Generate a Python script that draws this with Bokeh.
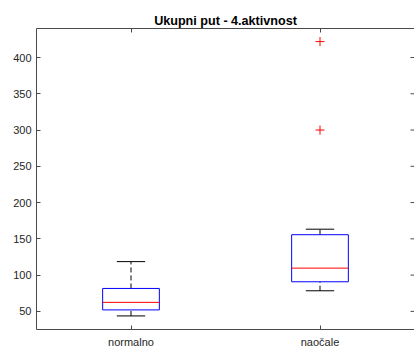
from math import pi
from bokeh.plotting import figure
from bokeh.models import FixedTicker, LinearAxis, Range1d
from bokeh.embed import file_html
from bokeh.resources import INLINE

# Box plot summary per group
groups = ["normalno", "naočale"]
lower_whisker = [43.7, 78.4]
q1 = [52.0, 90.8]
median = [62.4, 109.6]
q3 = [81.6, 155.7]
upper_whisker = [118.6, 163.3]
outlier_group = [2, 2]
outlier_value = [300.0, 422.0]

y_ticks = [50, 100, 150, 200, 250, 300, 350, 400]

positions = [i + 1 for i in range(len(groups))]
box_half = 0.15
cap_half = 0.075
x_lo, x_hi = 0.5, 2.5
y_lo, y_hi = 25, 440

AX = "#4a4a4a"
TXT = "#262626"
FONT = "Liberation Sans"

p = figure(width=414, height=351, output_backend="svg", toolbar_location=None,
           x_range=Range1d(x_lo, x_hi), y_range=Range1d(y_lo, y_hi),
           min_border_left=36, min_border_right=0, min_border_top=28,
           min_border_bottom=22, x_axis_location="below")
p.background_fill_color = "white"
p.border_fill_color = "white"
p.outline_line_color = None
p.grid.visible = False

p.title.text = "Ukupni put - 4.aktivnost"
p.title.align = "center"
p.title.text_font = FONT
p.title.text_font_size = "12.6px"
p.title.text_font_style = "bold"
p.title.text_color = "#000000"
p.title.standoff = 2

# whiskers (dashed) and caps
p.segment(x0=positions, y0=q3, x1=positions, y1=upper_whisker,
          line_color="#000000", line_width=1, line_dash="5 3")
p.segment(x0=positions, y0=lower_whisker, x1=positions, y1=q1,
          line_color="#000000", line_width=1, line_dash="5 3")
p.segment(x0=[x - cap_half for x in positions], y0=upper_whisker,
          x1=[x + cap_half for x in positions], y1=upper_whisker,
          line_color="#000000", line_width=1)
p.segment(x0=[x - cap_half for x in positions], y0=lower_whisker,
          x1=[x + cap_half for x in positions], y1=lower_whisker,
          line_color="#000000", line_width=1)

# boxes and medians
p.quad(left=[x - box_half for x in positions], right=[x + box_half for x in positions],
       bottom=q1, top=q3, fill_color=None, line_color="#0000ff", line_width=1)
p.segment(x0=[x - box_half for x in positions], y0=median,
          x1=[x + box_half for x in positions], y1=median,
          line_color="#ff0000", line_width=1)

# outliers
p.scatter(x=outlier_group, y=outlier_value, marker="cross", size=9,
          line_color="#ff0000", line_width=1)

def style_axis(ax, labels=True):
    ax.axis_line_color = AX
    ax.major_tick_line_color = AX
    ax.major_tick_in = 4
    ax.major_tick_out = 0
    ax.minor_tick_line_color = None
    ax.major_label_text_font = FONT
    ax.major_label_text_font_size = "11px"
    ax.major_label_text_color = TXT
    if not labels:
        ax.major_label_text_font_size = "0px"
        ax.major_label_text_color = None

p.xaxis.ticker = FixedTicker(ticks=positions)
p.xaxis.major_label_overrides = {pos: g for pos, g in zip(positions, groups)}
p.xaxis.major_label_standoff = 6
p.yaxis.ticker = FixedTicker(ticks=y_ticks)
p.yaxis.major_label_standoff = 5
style_axis(p.xaxis[0])
style_axis(p.yaxis[0])

top_ax = LinearAxis(ticker=FixedTicker(ticks=positions))
style_axis(top_ax, labels=False)
p.add_layout(top_ax, "above")

# inward ticks along the right edge of the frame
p.ray(x=[x_hi] * len(y_ticks), y=y_ticks, length=4, length_units="screen",
      angle=pi, line_color=AX, line_width=1)

open("out.html", "w").write(file_html(p, INLINE))
